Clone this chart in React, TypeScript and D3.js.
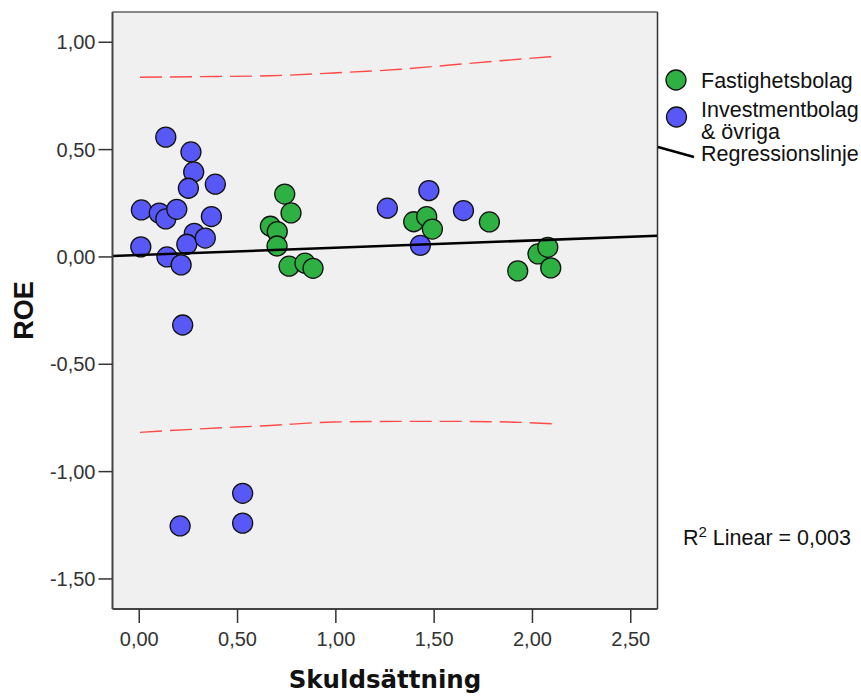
import React from "react";
import * as d3 from "d3";

// Data
const blueX = [0.135, 0.263, 0.277, 0.25, 0.387, 0.011, 0.102, 0.135, 0.191, 0.367, 0.28, 0.242, 0.336, 0.008, 0.141, 0.213, 0.221, 1.262, 1.473, 1.649, 1.43, 0.208, 0.526, 0.526];
const blueY = [0.558, 0.489, 0.396, 0.32, 0.339, 0.219, 0.204, 0.177, 0.222, 0.188, 0.11, 0.059, 0.088, 0.047, 0.0, -0.037, -0.317, 0.227, 0.309, 0.216, 0.054, -1.253, -1.101, -1.24];
const greenX = [0.74, 0.772, 0.667, 0.702, 0.701, 0.762, 0.843, 0.884, 1.396, 1.462, 1.491, 1.781, 1.925, 2.028, 2.078, 2.093];
const greenY = [0.293, 0.205, 0.143, 0.118, 0.051, -0.043, -0.029, -0.053, 0.164, 0.188, 0.13, 0.163, -0.065, 0.014, 0.045, -0.051];

const regIntercept = 0.0093;
const regSlope = 0.0337;

const bandX = [0.004, 0.309, 0.666, 0.986, 1.327, 1.581, 1.835, 2.098];
const upperY = [0.837, 0.84, 0.844, 0.857, 0.874, 0.894, 0.914, 0.933];
const lowerY = [-0.817, -0.801, -0.785, -0.769, -0.766, -0.766, -0.768, -0.777];

const xTicks = [0, 0.5, 1, 1.5, 2, 2.5];
const yTicks = [1, 0.5, 0, -0.5, -1, -1.5];

const legendLabels = ["Fastighetsbolag", "Investmentbolag", "& övriga", "Regressionslinje"];
const xTitle = "Skuldsättning";
const yTitle = "ROE";
const r2Text = "0,003";

const GREEN = "#2fb043";
const BLUE = "#5858f6";

const fmt = (v: number) => v.toFixed(2).replace(".", ",");

export default function App() {
  const left = 112.5, right = 657.5, top = 12, bottom = 609;
  const x = d3.scaleLinear().domain([-0.136, 2.636]).range([left, right]);
  const y = d3.scaleLinear().domain([1.141, -1.64]).range([top, bottom]);

  const band = d3
    .line<number>()
    .x((_, i) => x(bandX[i]))
    .curve(d3.curveMonotoneX);
  const upperPath = band.y((d) => y(d))(upperY) || "";
  const lowerPath = band.y((d) => y(d))(lowerY) || "";

  const [dx0, dx1] = x.domain();
  const font = "'Liberation Sans', Arial, sans-serif";

  return (
    <svg
      width={861}
      height={696}
      style={{ position: "absolute", left: 0, top: 0, background: "#fff" }}
      fontFamily={font}
    >
      <rect x={0} y={0} width={861} height={696} fill="#fff" />
      <rect x={left} y={top} width={right - left} height={bottom - top} fill="#f0f0f0" />

      {/* prediction band */}
      <path d={upperPath} fill="none" stroke="#ff4a4a" strokeWidth={1.4} strokeDasharray="22,8" />
      <path d={lowerPath} fill="none" stroke="#ff4a4a" strokeWidth={1.4} strokeDasharray="22,8" />

      {/* points */}
      {blueX.map((v, i) => (
        <circle key={"b" + i} cx={x(v)} cy={y(blueY[i])} r={10} fill={BLUE} stroke="#111" strokeWidth={1.3} />
      ))}
      {greenX.map((v, i) => (
        <circle key={"g" + i} cx={x(v)} cy={y(greenY[i])} r={10} fill={GREEN} stroke="#111" strokeWidth={1.3} />
      ))}

      {/* regression line */}
      <line
        x1={x(dx0)}
        y1={y(regIntercept + regSlope * dx0)}
        x2={x(dx1)}
        y2={y(regIntercept + regSlope * dx1)}
        stroke="#000"
        strokeWidth={2.5}
      />

      {/* frame */}
      <line x1={left} y1={top} x2={right} y2={top} stroke="#888" strokeWidth={2} />
      <line x1={left} y1={top} x2={left} y2={bottom} stroke="#444" strokeWidth={2} />
      <line x1={right} y1={top} x2={right} y2={bottom} stroke="#333" strokeWidth={1.5} />
      <line x1={left} y1={bottom} x2={right} y2={bottom} stroke="#444" strokeWidth={2} />

      {/* y axis */}
      {yTicks.map((t) => (
        <g key={"y" + t}>
          <line x1={left - 14} x2={left} y1={y(t)} y2={y(t)} stroke="#333" strokeWidth={1.5} />
          <text x={left - 17} y={y(t) + 7} textAnchor="end" fontSize={20} fill="#333">
            {fmt(t)}
          </text>
        </g>
      ))}
      {/* x axis */}
      {xTicks.map((t) => (
        <g key={"x" + t}>
          <line x1={x(t)} x2={x(t)} y1={bottom} y2={bottom + 14} stroke="#333" strokeWidth={1.5} />
          <text x={x(t)} y={bottom + 37} textAnchor="middle" fontSize={20} fill="#333">
            {fmt(t)}
          </text>
        </g>
      ))}

      <text
        transform={`translate(${33},${(top + bottom) / 2}) rotate(-90)`}
        textAnchor="middle"
        fontSize={27}
        fontWeight="bold"
        fill="#111"
      >
        {yTitle}
      </text>
      <text
        x={(left + right) / 2}
        y={688}
        textAnchor="middle"
        fontSize={24.5}
        fontWeight="bold"
        fontFamily="'DejaVu Sans', Verdana, sans-serif"
        fill="#111"
      >
        {xTitle}
      </text>

      {/* legend */}
      <circle cx={676} cy={80} r={10} fill={GREEN} stroke="#111" strokeWidth={1.3} />
      <text x={701} y={88} fontSize={21.5} fill="#111">{legendLabels[0]}</text>
      <circle cx={676.5} cy={117} r={10} fill={BLUE} stroke="#111" strokeWidth={1.3} />
      <text x={701} y={116.5} fontSize={21.5} fill="#111">{legendLabels[1]}</text>
      <text x={701} y={139} fontSize={21.5} fill="#111">{legendLabels[2]}</text>
      <line x1={658} y1={147} x2={694} y2={157} stroke="#000" strokeWidth={2.5} />
      <text x={701} y={161} fontSize={21.5} fill="#111">{legendLabels[3]}</text>

      {/* R2 */}
      <text x={683} y={545} fontSize={21.5} fill="#111">
        R<tspan fontSize={15} dy={-8}>2</tspan>
        <tspan dy={8}>{" Linear = " + r2Text}</tspan>
      </text>
    </svg>
  );
}
